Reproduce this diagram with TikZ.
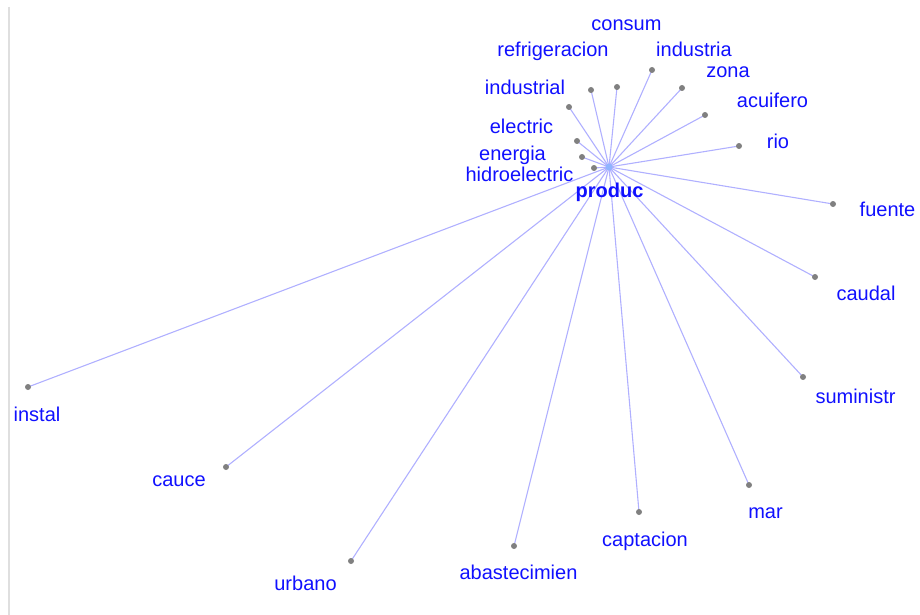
\documentclass[tikz,border=0pt]{standalone}
\usepackage{fontspec}
\setmainfont{Liberation Sans}
\usetikzlibrary{positioning}
\usepackage{xcolor}
\definecolor{wlink}{HTML}{B0B0FF}
\definecolor{wword}{HTML}{1010FF}
\definecolor{wdot}{HTML}{808080}
\definecolor{whub}{HTML}{8FB4FF}

\begin{document}
\begin{tikzpicture}[x=1pt, y=-1pt, font=\fontsize{20}{24}\selectfont,
  leaf/.style={circle, fill=wdot, inner sep=0pt, minimum size=6pt},
  word/.style={text=wword, inner sep=0pt, anchor=base},
  link/.style={wlink, line width=1.1pt}]
\useasboundingbox (0,0) rectangle (920,615);
% ---------- frame edge ----------
\draw[gray!25, line width=1.6pt] (9,7) -- (9,615);
% ---------- the star round produc ----------
\coordinate (hub) at (609,167);
\foreach \n/\dx/\dy/\lx/\ly in {
  consum/617/87/626.5/31, refrigeracion/591/90/553/57,
  industria/652/70/694/57, zona/682/88/728/78,
  acuifero/705/115/772.5/107, rio/739/146/778/148,
  industrial/569/107/525/95, electric/577/141/521.5/133,
  energia/582/157/512.5/160, hidroelectric/594/168/519.5/181,
  fuente/833/204/887.5/216, caudal/815/277/866/300,
  suministr/803/377/855.5/403, mar/749/485/765.5/518,
  captacion/639/512/645/546, abastecimien/514/546/518.5/579,
  urbano/351/561/305.5/590, cauce/226/467/179/486,
  instal/28/387/37/421}{
  \draw[link] (hub) -- (\dx,\dy) coordinate (\n-end);
  \node[leaf] (\n) at (\n-end) {};
  \node[word] (\n-lb) at (\lx,\ly) {\n};
}
\node[circle, fill=whub, inner sep=0pt, minimum size=7pt] (hubdot) at (hub) {};
\node[word, font=\fontsize{20}{24}\selectfont\bfseries] (produc) at (609.5,197) {produc};
\end{tikzpicture}
\end{document}
